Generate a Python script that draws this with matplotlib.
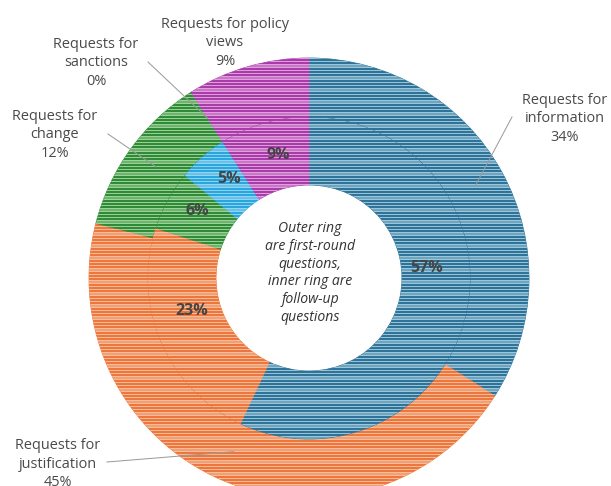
import numpy as np
import matplotlib
matplotlib.use('Agg')
import matplotlib.pyplot as plt

categories = ['Requests for information', 'Requests for justification',
              'Requests for change', 'Requests for sanctions',
              'Requests for policy views']
outer_pct = [34, 45, 12, 0, 9]     # first-round questions
inner_pct = [57, 23, 6, 5, 9]      # follow-up questions
outer_names = ['Requests for\ninformation', 'Requests for\njustification',
               'Requests for\nchange', 'Requests for\nsanctions',
               'Requests for policy\nviews']

dark = ['#2f7398', '#ec763c', '#318a37', '#2aa6de', '#a83da9']
light = ['#a3cde0', '#f9c2a2', '#a2d89f', '#9ad8f4', '#e6a6e2']

plt.rcParams['font.family'] = ['Open Sans', 'DejaVu Sans']

W, H, DPI = 611, 486, 72
R, CX, CY = 220.0, 309.0, 278.0


def px(x, y):
    return (x - CX) / R, (CY - y) / R


fig = plt.figure(figsize=(W / DPI, H / DPI), dpi=DPI)
ax = fig.add_axes([0, 0, 1, 1])

r_out, r_mid, r_in = 1.0, 161 / R, 93 / R


def ring(vals, radius, width):
    wedges, _ = ax.pie(vals, radius=radius, startangle=90, counterclock=False,
                       colors=dark, wedgeprops=dict(width=width, linewidth=0.8))
    for w, c in zip(wedges, dark):
        w.set_edgecolor(c)
    # fine stripes, then broad lighter bands
    for hatch, lw, alpha in [('----', 1.0, 0.9), ('-', 3.5, 0.55)]:
        plt.rcParams['hatch.linewidth'] = lw
        over, _ = ax.pie(vals, radius=radius, startangle=90, counterclock=False,
                         wedgeprops=dict(width=width, linewidth=0))
        for w, c in zip(over, light):
            w.set_facecolor('none')
            w.set_edgecolor(matplotlib.colors.to_rgba(c, alpha))
            w.set_linewidth(0)
            w.set_hatch(hatch)


ring(outer_pct, r_out, r_out - r_mid)
ring(inner_pct, r_mid, r_mid - r_in)

# outer labels with leader lines
label_pos = [(565, 119), (58, 464), (55, 135), (96, 63), (225, 43)]
elbow = [(512, 117), (107, 462), (108, 134), (148, 62), None]
angles = 90 - 360 * (np.cumsum(outer_pct) - np.array(outer_pct) / 2) / 100
for name, pct, pos, elb, ang in zip(outer_names, outer_pct, label_pos,
                                    elbow, angles):
    ax.text(*px(*pos), f'{name}\n{pct}%', ha='center', va='center',
            fontsize=14.5, color='#4a4a4a', linespacing=1.3)
    if elb is None:
        continue
    a = np.deg2rad(ang)
    tip = (0.86 * np.cos(a), 0.86 * np.sin(a))
    ex, ey = px(*elb)
    ax.plot([ex, tip[0]], [ey, tip[1]], color='#9a9a9a', lw=1)

# inner percentage labels
inner_pos = [(427, 268), (192, 311), (197, 211), (229, 179), (278, 155)]
for pct, pos in zip(inner_pct, inner_pos):
    ax.text(*px(*pos), f'{pct}%', ha='center', va='center', fontsize=16,
            fontweight='bold', color='#454545')

ax.text(*px(310, 273),
        'Outer ring\nare first-round\nquestions,\ninner ring are\nfollow-up\nquestions',
        ha='center', va='center', fontsize=14, style='italic',
        color='#333333', linespacing=1.25)

ax.set_xlim(-CX / R, (W - CX) / R)
ax.set_ylim((CY - H) / R, CY / R)
ax.set_aspect('equal')
ax.axis('off')

fig.savefig('out.png', dpi=DPI)
